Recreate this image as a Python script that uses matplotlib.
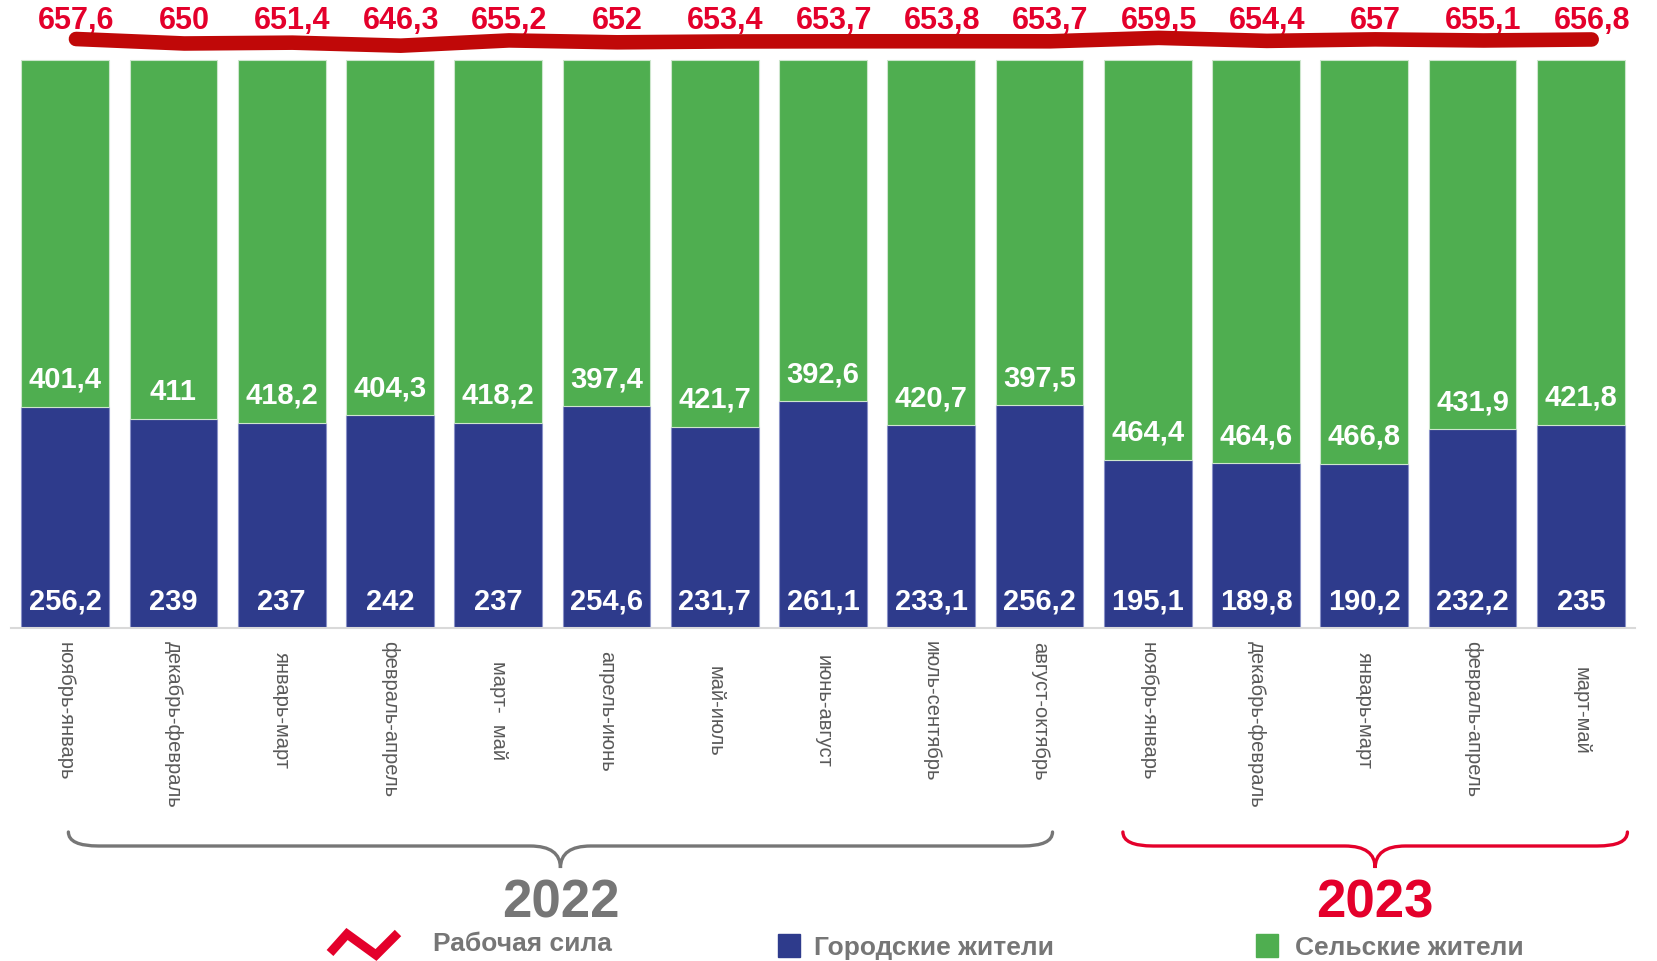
import matplotlib
matplotlib.use("Agg")
import matplotlib.pyplot as plt
import numpy as np
from matplotlib.path import Path
from matplotlib.patches import PathPatch, Rectangle
from matplotlib.lines import Line2D
from matplotlib.transforms import blended_transform_factory

# ---------------- data ----------------
categories = ["ноябрь-январь", "декабрь-февраль", "январь-март", "февраль-апрель",
              "март-  май", "апрель-июнь", "май-июль", "июнь-август",
              "июль-сентябрь", "август-октябрь",
              "ноябрь-январь", "декабрь-февраль", "январь-март", "февраль-апрель", "март-май"]
urban = [256.2, 239, 237, 242, 237, 254.6, 231.7, 261.1, 233.1, 256.2,
         195.1, 189.8, 190.2, 232.2, 235]
rural = [401.4, 411, 418.2, 404.3, 418.2, 397.4, 421.7, 392.6, 420.7, 397.5,
         464.4, 464.6, 466.8, 431.9, 421.8]
labour_force = [657.6, 650, 651.4, 646.3, 655.2, 652, 653.4, 653.7, 653.8, 653.7,
                659.5, 654.4, 657, 655.1, 656.8]
years = ["2022", "2023"]
year_groups = [(0, 9), (10, 14)]
legend_labels = ["Рабочая сила", "Городские жители", "Сельские жители"]

# ---------------- style ----------------
BLUE = "#2E3B8C"
GREEN = "#4FAE50"
LINE_RED = "#C00808"
TEXT_RED = "#E4002B"
GRAY = "#767676"
TICK_GRAY = "#595959"
NARROW = ["Liberation Sans Narrow", "Liberation Sans", "DejaVu Sans"]
REG = ["Liberation Sans", "DejaVu Sans"]

W_PX, H_PX = 1658, 962
fig = plt.figure(figsize=(W_PX / 100, H_PX / 100), dpi=100)

def fx(px):
    return px / W_PX

def fy(py):
    return 1 - py / H_PX

base_px, top_px, full_px = 629, 10, 568
ax = fig.add_axes([fx(11), fy(base_px), fx(1635) - fx(11), (base_px - top_px) / H_PX])
ax.set_ylim(0, (base_px - top_px) / full_px)

n = len(categories)
x = np.arange(n)
urban_a = np.array(urban)
rural_a = np.array(rural)
tot = urban_a + rural_a
u_share = urban_a / tot
r_share = rural_a / tot

ax.bar(x, u_share, width=0.81, color=BLUE, edgecolor="#8A92C8", linewidth=0.8, zorder=2)
ax.bar(x, r_share, bottom=u_share, width=0.81, color=GREEN, edgecolor="#CDE6CD",
       linewidth=0.8, zorder=2)
ax.set_xlim(-0.5, n - 0.5)

for s in ["top", "right", "left"]:
    ax.spines[s].set_visible(False)
ax.spines["bottom"].set_color("#D9D9D9")
ax.spines["bottom"].set_linewidth(1.5)
ax.set_yticks([])
ax.set_xticks([])

def fmt(v):
    return f"{v:g}".replace(".", ",")

for i in range(n):
    ax.annotate(fmt(urban[i]), (x[i], 0), xytext=(0, 27), textcoords="offset pixels",
                ha="center", va="center", color="white", fontsize=21,
                fontweight="bold", family=REG, zorder=4)
    ax.annotate(fmt(rural[i]), (x[i], u_share[i]), xytext=(0, 28), textcoords="offset pixels",
                ha="center", va="center", color="white", fontsize=21,
                fontweight="bold", family=REG, zorder=4)

# labour force line on secondary axis
ax2 = ax.twinx()
ppu = 0.59
v_bot = 657.6 - (base_px - 40) / ppu
v_top = 657.6 + (40 - top_px) / ppu
ax2.set_ylim(v_bot, v_top)
ax2.axis("off")
shift = 0.1
ax2.plot(x + shift, labour_force, color=LINE_RED, linewidth=10.5,
         solid_capstyle="round", solid_joinstyle="round", zorder=3)
ax2.set_xlim(-0.5, n - 0.5)
tr_top = blended_transform_factory(ax.transData, fig.transFigure)
for i in range(n):
    ax.text(x[i] + shift, fy(21), fmt(labour_force[i]), transform=tr_top,
            ha="center", va="center", color=TEXT_RED, fontsize=22,
            fontweight="bold", family=NARROW)

# category labels (rotated)
tick_texts = []
for i, c in enumerate(categories):
    t = ax.text(x[i], fy(711), c, transform=tr_top, rotation=270,
                ha="center", va="center", color=TICK_GRAY, fontsize=14.5, family=REG)
    tick_texts.append(t)
fig.canvas.draw()
r = fig.canvas.get_renderer()
for t in tick_texts:
    bb = t.get_window_extent(r)
    h = bb.height
    if 711 - h / 2 < 641:
        t.set_y(fy(641 + h / 2))

# braces
def brace(xa, xb, color):
    xm = (xa + xb) / 2
    yt, yl, yp = fy(833), fy(847), fy(869)
    rr = 0.28
    verts = [(xa, yt), (xa, yl), (xa + rr, yl),
             (xm - rr, yl), (xm, yl), (xm, yp),
             (xm, yl), (xm + rr, yl),
             (xb - rr, yl), (xb, yl), (xb, yt)]
    codes = [Path.MOVETO, Path.CURVE3, Path.CURVE3,
             Path.LINETO, Path.CURVE3, Path.CURVE3,
             Path.CURVE3, Path.CURVE3,
             Path.LINETO, Path.CURVE3, Path.CURVE3]
    p = PathPatch(Path(verts, codes), transform=tr_top, facecolor="none",
                  edgecolor=color, linewidth=2.4, clip_on=False, capstyle="round")
    fig.add_artist(p)
    return xm

year_colors = [GRAY, TEXT_RED]
brace_ext = [(0.03, 9.12), (9.77, 14.43)]
for (ga, gb), yr, col, (ba, bb2) in zip(year_groups, years, year_colors, brace_ext):
    xm = brace(ba, bb2, col)
    ax.text(xm, fy(904), yr, transform=tr_top, ha="center", va="center",
            color=col, fontsize=38, fontweight="bold", family=NARROW)

# legend
zz_x = [330, 347, 376, 398]
zz_y = [954, 935, 956, 934]
fig.add_artist(Line2D([fx(v) for v in zz_x], [fy(v) for v in zz_y],
                      transform=fig.transFigure, color=TEXT_RED, linewidth=6.5,
                      solid_joinstyle="miter", solid_capstyle="butt"))
fig.text(fx(433), fy(944), legend_labels[0], ha="left", va="center", color=GRAY,
         fontsize=19, fontweight="bold", family=NARROW)
fig.add_artist(Rectangle((fx(778), fy(958)), fx(800) - fx(778), fy(935) - fy(958),
                         transform=fig.transFigure, color=BLUE))
fig.text(fx(814), fy(948), legend_labels[1], ha="left", va="center", color=GRAY,
         fontsize=19, fontweight="bold", family=NARROW)
fig.add_artist(Rectangle((fx(1256), fy(958)), fx(1278) - fx(1256), fy(935) - fy(958),
                         transform=fig.transFigure, color=GREEN))
fig.text(fx(1295), fy(948), legend_labels[2], ha="left", va="center", color=GRAY,
         fontsize=19, fontweight="bold", family=NARROW)

fig.savefig("out.png", dpi=100)
